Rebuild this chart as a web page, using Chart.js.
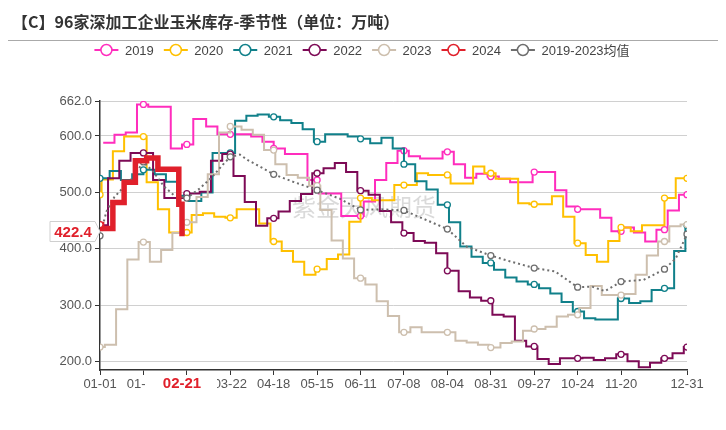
<!DOCTYPE html>
<html>
<head>
<meta charset="utf-8">
<script src="https://cdn.jsdelivr.net/npm/chart.js@4.4.1/dist/chart.umd.min.js"></script>
<style>
  html, body { margin: 0; padding: 0; background: #fff; }
  #wrap { width: 726px; height: 430px; }
</style>
</head>
<body>
<div id="wrap"><canvas id="c" width="726" height="430"></canvas></div>
<script>
// 96家深加工企业玉米库存 (万吨), weekly readings
const years = ['2019', '2020', '2021', '2022', '2023', '2024'];
const avgLabel = '2019-2023均值';

// Thursdays from 2019-01-03
const v2019 = [588, 602, 606, 656, 652, 652, 578, 585, 630, 617, 603, 603, 603, 599, 590, 578, 568, 568, 522, 498,
  498, 458, 458, 484, 522, 552, 574, 564, 560, 560, 572, 550, 526, 533, 528, 524, 518, 518, 536, 536,
  504, 475, 470, 470, 455, 431, 438, 429, 413, 434, 468, 496];
// Thursdays from 2020-01-02
const v2020 = [523, 573, 599, 599, 518, 470, 429, 429, 460, 463, 457, 455, 470, 470, 445, 413, 396, 377, 354, 364,
  382, 390, 448, 490, 486, 486, 513, 513, 534, 531, 531, 516, 516, 546, 534, 524, 524, 481, 479, 479,
  493, 457, 410, 389, 377, 414, 438, 431, 442, 442, 490, 525, 525];
// Thursdays from 2021-01-07
const v2021 = [538, 522, 532, 540, 532, 519, 494, 485, 500, 570, 570, 627, 636, 638, 634, 628, 623, 612, 590, 603,
  603, 599, 595, 587, 597, 578, 550, 520, 505, 478, 447, 404, 386, 375, 363, 349, 342, 337, 330, 321,
  306, 289, 277, 275, 275, 312, 304, 307, 327, 330, 396, 442];
// Thursdays from 2022-01-06
const v2022 = [525, 556, 570, 570, 522, 490, 490, 498, 501, 556, 568, 529, 483, 441, 454, 466, 485, 497, 534, 543,
  552, 536, 503, 496, 467, 447, 428, 414, 411, 392, 361, 325, 314, 308, 283, 280, 237, 227, 205, 196,
  206, 206, 207, 203, 206, 213, 201, 190, 198, 206, 215, 226];
// Wednesdays from 2023-01-04
const v2023 = [230, 293, 381, 412, 377, 398, 428, 447, 492, 532, 606, 617, 611, 602, 575, 550, 531, 526, 512, 469,
  415, 383, 348, 337, 307, 281, 252, 261, 252, 252, 252, 237, 234, 230, 225, 233, 236, 255, 258, 262,
  280, 283, 295, 334, 318, 318, 320, 354, 388, 413, 440, 443];
const d2024 = ['01-01', '01-02', '01-09', '01-16', '01-23', '01-30', '02-06', '02-19', '02-21'];
const v2024 = [443, 436, 482, 518, 556, 561, 541, 479, 422.4];

const avgDays = [0, 4, 9, 15, 20, 27, 33, 40, 46, 54, 62, 70, 76, 81, 87, 92, 100, 108, 120, 135, 149, 162, 175, 189,
  203, 216, 228, 243, 256, 270, 283, 297, 306, 314, 324, 338, 351, 358, 365];
const avgVals = [423, 466, 492, 510, 525, 554, 537, 510, 495, 490, 507, 528, 548, 563, 567, 557, 545, 532, 519, 504,
  489, 469, 470, 468, 451, 435, 404, 388, 377, 366, 360, 332, 333, 325, 342, 345, 364, 383, 426];

const xTicks = [0, 27, 54, 81, 108, 135, 162, 189, 216, 243, 270, 297, 324, 365];
const yTicks = [200, 300, 400, 500, 600, 662];

const colors = ['#ff2dbd', '#ffc000', '#10808a', '#7d0a56', '#cdbfae', '#e0202b'];
const avgColor = '#6e6e6e';
const FONT = '"Liberation Sans", "Noto Sans CJK SC", sans-serif';

// day index on a leap-year axis (01-01 = 0, 12-31 = 365)
const dayOf = (m, d) => Math.round((Date.UTC(2024, m - 1, d) - Date.UTC(2024, 0, 1)) / 864e5);
const weekly = (y, m, d, n) => Array.from({length: n}, (_, i) => {
  const t = new Date(Date.UTC(y, m - 1, d + 7 * i));
  return dayOf(t.getUTCMonth() + 1, t.getUTCDate());
});
const mmdd = d => {
  const t = new Date(Date.UTC(2024, 0, 1 + d));
  return String(t.getUTCMonth() + 1).padStart(2, '0') + '-' + String(t.getUTCDate()).padStart(2, '0');
};
// weekly values held until the next reading (the chart plots them per day)
function daily(days, vals, carry, last) {
  const pts = [];
  let k = -1, cur = carry;
  for (let d = 0; d <= last; d++) {
    while (k + 1 < days.length && days[k + 1] <= d) { k++; cur = vals[k]; }
    if (cur != null) pts.push({x: d, y: cur});
  }
  return pts;
}
const last = a => a[a.length - 1];

const series = [
  daily(weekly(2019, 1, 3, v2019.length), v2019, null, 365),
  daily(weekly(2020, 1, 2, v2020.length), v2020, last(v2019), 365),
  daily(weekly(2021, 1, 7, v2021.length), v2021, last(v2020), 365),
  daily(weekly(2022, 1, 6, v2022.length), v2022, last(v2021), 365),
  daily(weekly(2023, 1, 4, v2023.length), v2023, last(v2022), 365),
  daily(d2024.map(s => dayOf(+s.slice(0, 2), +s.slice(3))), v2024, null, dayOf(2, 21))
];
const drawOrder = [6, 5, 4, 3, 2, 0];

const onTick = c => (c.raw.x % 27 === 0 || c.raw.x === 365) ? 3 : 0;

const datasets = years.map((y, i) => ({
  label: y,
  data: series[i],
  borderColor: colors[i],
  backgroundColor: colors[i],
  borderWidth: i === 5 ? 5.5 : 2,
  stepped: true,
  pointRadius: i === 5 ? (c => c.raw.x === 0 ? 3 : 0) : onTick,
  pointBackgroundColor: '#fff',
  pointBorderColor: colors[i],
  pointBorderWidth: 1.3,
  order: drawOrder[i]
}));
datasets.push({
  label: avgLabel,
  data: avgDays.map((x, i) => ({x, y: avgVals[i]})),
  borderColor: avgColor,
  backgroundColor: avgColor,
  borderWidth: 2,
  borderDash: [2, 3],
  pointRadius: onTick,
  pointBackgroundColor: '#fff',
  pointBorderColor: avgColor,
  pointBorderWidth: 1.3,
  order: 1
});

// title, legend, watermark and the latest-value labels
const decor = {
  id: 'decor',
  beforeDatasetsDraw(chart) {
    const ctx = chart.ctx;
    ctx.save();
    ctx.font = '24px "Noto Sans CJK SC"';
    ctx.fillStyle = 'rgba(150,150,150,0.35)';
    ctx.textAlign = 'center';
    ctx.textBaseline = 'middle';
    ctx.fillText('紫金天风期货', 364, 207);
    ctx.restore();
  },
  afterDraw(chart) {
    const ctx = chart.ctx;
    const {x, y} = chart.scales;
    ctx.save();
    // title
    ctx.font = 'bold 16px "Noto Sans CJK SC"';
    ctx.fillStyle = '#333';
    ctx.textBaseline = 'middle';
    ctx.fillText('【C】96家深加工企业玉米库存-季节性（单位：万吨）', 12, 22);
    ctx.strokeStyle = '#aaa';
    ctx.lineWidth = 1;
    ctx.beginPath();
    ctx.moveTo(8, 40.5);
    ctx.lineTo(718, 40.5);
    ctx.stroke();

    // legend
    ctx.font = '13px ' + FONT;
    const items = chart.data.datasets.map(ds => ({text: ds.label, color: ds.borderColor}));
    const widths = items.map(it => 30.5 + ctx.measureText(it.text).width);
    const total = widths.reduce((a, b) => a + b, 0) + 10 * (items.length - 1);
    let lx = 362 - total / 2;
    const ly = 50;
    items.forEach((it, i) => {
      ctx.strokeStyle = it.color;
      ctx.lineWidth = 2;
      ctx.beginPath();
      ctx.moveTo(lx, ly);
      ctx.lineTo(lx + 24, ly);
      ctx.stroke();
      ctx.beginPath();
      ctx.arc(lx + 12, ly, 5.5, 0, Math.PI * 2);
      ctx.fillStyle = '#fff';
      ctx.fill();
      ctx.lineWidth = 1.5;
      ctx.stroke();
      ctx.fillStyle = '#444';
      ctx.textAlign = 'left';
      ctx.fillText(it.text, lx + 30.5, ly + 1);
      lx += widths[i] + 10;
    });

    // latest value on the y axis
    const lastVal = last(v2024);
    const yv = Math.round(y.getPixelForValue(lastVal)) - 4.5;
    const bx = x.left;
    ctx.beginPath();
    ctx.moveTo(bx - 50, yv - 10);
    ctx.lineTo(bx - 5, yv - 10);
    ctx.lineTo(bx, yv);
    ctx.lineTo(bx - 5, yv + 10);
    ctx.lineTo(bx - 50, yv + 10);
    ctx.closePath();
    ctx.fillStyle = '#fff';
    ctx.fill();
    ctx.strokeStyle = '#cfcfcf';
    ctx.lineWidth = 1;
    ctx.stroke();
    ctx.font = 'bold 15px ' + FONT;
    ctx.fillStyle = colors[5];
    ctx.textAlign = 'center';
    ctx.fillText(lastVal.toFixed(1), bx - 27, yv + 1);

    // latest date on the x axis
    const lastDay = dayOf(2, 21);
    const xv = x.getPixelForValue(lastDay);
    ctx.fillStyle = '#fff';
    ctx.fillRect(xv - 37, y.bottom + 6, 72, 22);
    ctx.fillStyle = colors[5];
    ctx.fillText(mmdd(lastDay), xv, y.bottom + 14);
    ctx.restore();
  }
};

new Chart(document.getElementById('c'), {
  type: 'line',
  data: { datasets },
  options: {
    responsive: false,
    animation: false,
    events: [],
    layout: { padding: { top: 101, right: 39, bottom: 0, left: 0 } },
    plugins: { legend: { display: false }, tooltip: { enabled: false } },
    scales: {
      x: {
        type: 'linear',
        min: 0,
        max: 365,
        afterBuildTicks: s => { s.ticks = xTicks.map(v => ({value: v})); },
        afterFit: s => { s.height = 60; },
        ticks: {
          autoSkip: false, maxRotation: 0, padding: 2, color: '#555',
          font: { size: 13, family: FONT },
          callback: v => v === 54 ? '' : mmdd(v)
        },
        grid: { drawOnChartArea: false, tickLength: 5, tickColor: '#333' },
        border: { color: '#333', width: 1.5 }
      },
      y: {
        min: 185.3,
        max: 662,
        afterBuildTicks: s => { s.ticks = yTicks.map(v => ({value: v})); },
        afterFit: s => { s.width = 100; },
        ticks: {
          padding: 3, color: '#555',
          font: { size: 13, family: FONT },
          callback: v => v.toFixed(1)
        },
        grid: { color: '#d0d0d0', lineWidth: 1, tickLength: 5, tickColor: '#333' },
        border: { color: '#333', width: 1.5 }
      }
    }
  },
  plugins: [decor]
});
</script>
</body>
</html>
